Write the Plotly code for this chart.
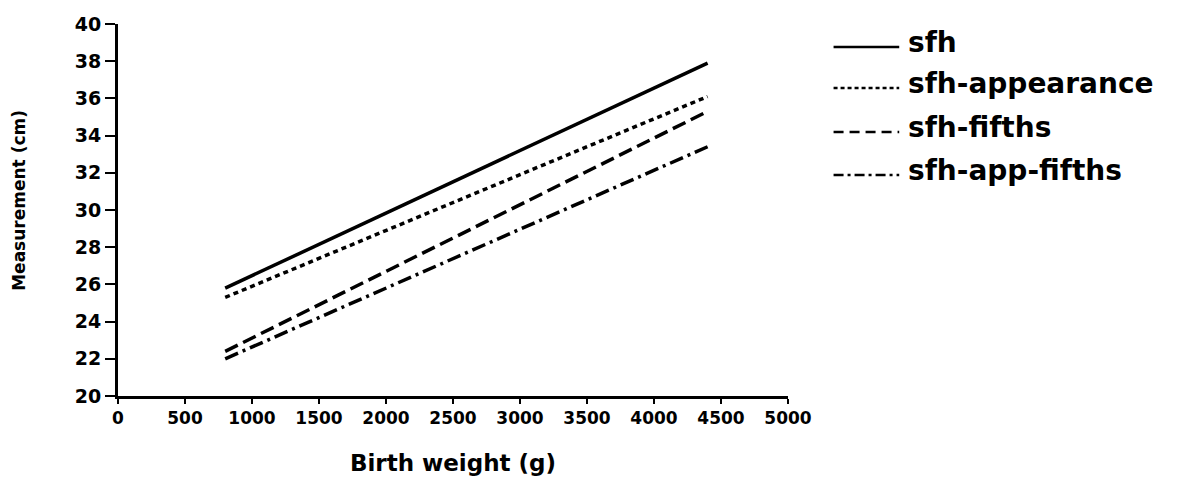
import plotly.graph_objects as go

# Data
series_names = ["sfh", "sfh-appearance", "sfh-fifths", "sfh-app-fifths"]
birth_weight = [800, 4400]
sfh = [25.8, 37.9]
sfh_appearance = [25.3, 36.1]
sfh_fifths = [22.4, 35.3]
sfh_app_fifths = [22.0, 33.4]
x_ticks = [0, 500, 1000, 1500, 2000, 2500, 3000, 3500, 4000, 4500, 5000]
y_ticks = [20, 22, 24, 26, 28, 30, 32, 34, 36, 38, 40]

values = [sfh, sfh_appearance, sfh_fifths, sfh_app_fifths]
dashes = ["solid", "5px,4px", "14px,6px", "14px,5px,3px,5px"]

FONT = "DejaVu Sans"
fig = go.Figure()
for name, vals, d in zip(series_names, values, dashes):
    fig.add_trace(go.Scatter(x=birth_weight, y=vals, mode="lines", name=name,
                             line=dict(color="black", width=3.5, dash=d),
                             showlegend=False))

# Manual legend (long line samples like the reference)
leg_y = [0.938, 0.828, 0.710, 0.594]
leg_dash = ["solid", "4px,3px", "10px,6px", "10px,4px,3px,4px"]
for name, d, yy in zip(series_names, leg_dash, leg_y):
    fig.add_shape(type="line", xref="paper", yref="paper",
                  x0=1.068, x1=1.166, y0=yy, y1=yy,
                  line=dict(color="black", width=2.5, dash=d))
    fig.add_annotation(xref="paper", yref="paper", x=1.176, y=yy + 0.012,
                       text=name, showarrow=False, xanchor="left", yanchor="middle",
                       font=dict(family=FONT, size=28, color="black", weight="bold"))

# Y axis title placed as in the reference
fig.add_annotation(xref="paper", yref="paper", x=-0.148, y=0.527,
                   text="Measurement (cm)", textangle=-90, showarrow=False,
                   xanchor="center", yanchor="middle",
                   font=dict(family=FONT, size=17, color="black", weight="bold"))

fig.update_layout(
    width=1182, height=486,
    margin=dict(l=110, r=402, t=16, b=98),
    paper_bgcolor="white", plot_bgcolor="white",
    font=dict(family=FONT, color="black", weight="bold"),
)
fig.update_xaxes(range=[0, 5000], tickvals=x_ticks, ticks="outside", ticklen=5,
                 tickwidth=2, tickcolor="black", showline=True, linewidth=3,
                 linecolor="black", showgrid=False, zeroline=False, automargin=False,
                 tickfont=dict(family=FONT, size=17, weight="bold"),
                 title=dict(text="Birth weight (g)", standoff=28,
                            font=dict(family=FONT, size=23, weight="bold")))
fig.update_yaxes(range=[20, 40], tickvals=y_ticks, ticks="outside", ticklen=10,
                 tickwidth=2, tickcolor="black", showline=True, linewidth=3,
                 linecolor="black", showgrid=False, zeroline=False, automargin=False,
                 tickfont=dict(family=FONT, size=19, weight="bold"))

fig.write_html("out.html")
